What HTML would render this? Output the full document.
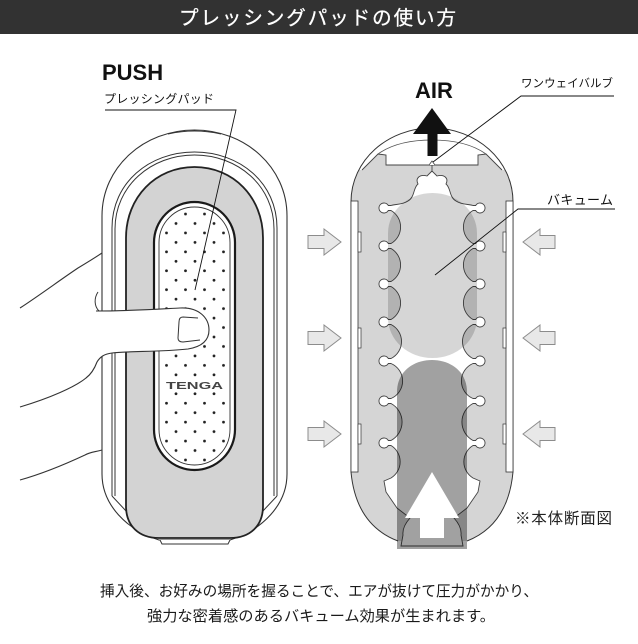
<!DOCTYPE html>
<html>
<head>
<meta charset="utf-8">
<style>
html,body{margin:0;padding:0;background:#fff;}
body{width:638px;height:644px;overflow:hidden;}
svg{display:block;}
text{font-family:"Liberation Sans","Noto Sans CJK JP",sans-serif;}
</style>
</head>
<body>
<svg width="638" height="644" viewBox="0 0 638 644" xmlns="http://www.w3.org/2000/svg">
<defs>
  <clipPath id="capc">
    <path d="M351,202 C351,160 388,128 432,128 C476,128 513,160 513,202 L513,472 Q508,525 467,541 L398,541 Q356,525 351,472 Z"/>
  </clipPath>
  <pattern id="dots" patternUnits="userSpaceOnUse" x="157" y="209.27" width="19" height="18.92">
    <circle cx="9.5" cy="4.73" r="1.4" fill="#222"/>
    <circle cx="0" cy="14.19" r="1.4" fill="#222"/>
    <circle cx="19" cy="14.19" r="1.4" fill="#222"/>
  </pattern>
</defs>

<!-- Header -->
<rect x="0" y="0" width="638" height="34" fill="#323232"/>
<text x="179" y="24.5" font-size="19.5" fill="#ffffff" stroke="#ffffff" stroke-width="0.3" textLength="277" lengthAdjust="spacing">プレッシングパッドの使い方</text>

<!-- Labels left -->
<text x="102" y="80" font-size="22" font-weight="bold" fill="#111">PUSH</text>
<text x="104" y="103" font-size="12" fill="#111" textLength="110" lengthAdjust="spacing">プレッシングパッド</text>

<!-- ===== Left device ===== -->
<path d="M102,216 C102,167 144,130 194.5,130 C245,130 287,167 287,216 L287,474 C287,505 262,530 230,540 L159,540 C127,530 102,505 102,474 Z" fill="#fff" stroke="#333" stroke-width="1.1"/>
<path d="M168,134 Q194.5,128 221,134" fill="none" stroke="#333" stroke-width="1"/>
<path d="M160,540 L162,544 L228,544 L230,540" fill="#fff" stroke="#333" stroke-width="1"/>
<!-- ring -->
<path d="M112,496 L112,228 C112,183 149,152 194.5,152 C240,152 277,183 277,228 L277,496" fill="none" stroke="#333" stroke-width="1"/>
<path d="M115,496 L115,229 C115,186 151,155 194.5,155 C238,155 274,186 274,229 L274,496" fill="none" stroke="#333" stroke-width="1"/>
<path d="M112,496 L127,512 M277,496 L262,512" fill="none" stroke="#333" stroke-width="1"/>
<!-- gray body -->
<path d="M126,238 C126,197 156,167 194.5,167 C233,167 263,197 263,238 L263,506 C263,526 250,538 230,538 L159,538 C139,538 126,526 126,506 Z" fill="#d3d3d3" stroke="#222" stroke-width="1.8"/>
<!-- pad -->
<rect x="154" y="202" width="81" height="268" rx="40.5" ry="40.5" fill="#fff" stroke="#1a1a1a" stroke-width="2.2"/>
<rect x="159" y="207" width="71" height="258" rx="35.5" ry="35.5" fill="url(#dots)" stroke="#333" stroke-width="0.9"/>
<rect x="162" y="379.5" width="66" height="10" fill="#fff"/>
<text x="166" y="389" font-size="10" font-weight="bold" fill="#444" textLength="57" lengthAdjust="spacingAndGlyphs">TENGA</text>

<!-- hand -->
<path d="M96,311 C130,311 160,309 180,308 C199,307 209,318 209,330 C209,342 200,347 188,349 C160,352 130,351 112,353 C104,354 100,357 97,362 L60,362 L60,311 Z" fill="#fff"/>
<path d="M20,308 C40,295 60,280 78,268 C88,262 96,257 102,253" fill="none" stroke="#333" stroke-width="1.1"/>
<path d="M98,292 C94,298 94,306 99,311" fill="none" stroke="#333" stroke-width="1"/>
<path d="M96,311 C130,311 160,309 180,308 C199,307 209,318 209,330 C209,342 200,347 188,349 C160,352 130,351 112,353 C104,354 100,357 97,362 C94,370 90,375 86,378 C75,387 50,398 20,407" fill="none" stroke="#333" stroke-width="1.1"/>
<path d="M198,318 L183,317 C180,317 179,319 179,322 L178,338 C178,341 180,342 183,342 L200,340" fill="none" stroke="#333" stroke-width="1"/>
<path d="M102,450 C95,452 90,452 85,455 C70,462 45,473 20,480" fill="none" stroke="#333" stroke-width="1.1"/>

<!-- leader left -->
<path d="M105,110 L236,110 L195,290" fill="none" stroke="#111" stroke-width="0.9"/>

<!-- ===== Right cross-section ===== -->
<path d="M351,202 C351,160 388,128 432,128 C476,128 513,160 513,202 L513,472 Q508,525 467,541 L398,541 Q356,525 351,472 Z" fill="#d5d5d5"/>
<polygon points="340,170 362,170 378,154 386,155 386,165 478,165 478,155 486,154 502,170 524,170 524,115 340,115" fill="#fff" clip-path="url(#capc)"/>
<polyline points="362,170 378,154 386,155 386,165 478,165 478,155 486,154 502,170" fill="none" stroke="#444" stroke-width="0.9"/>
<path d="M378,154 C392,144 410,140 432,140 C454,140 472,144 486,154" fill="none" stroke="#555" stroke-width="0.8"/>
<path d="M432,165 L432,172" stroke="#444" stroke-width="0.9"/>
<path d="M429,165 L432,161 L435,165" fill="#fff" stroke="#444" stroke-width="0.8"/>

<!-- canal -->
<path d="M432,171 L427,176 C420,174 415,178 418,184 C413,188 415,197 408,201 C402,205 395,204 391,205.5
L388.3,205.5 A5,5 0 1 0 388.3,210.5 L391,210.5 A19,19 0 0 1 391,243.5
L388.3,243.5 A5,5 0 1 0 388.3,248.5 L391,248.5 A19,19 0 0 1 391,281.5
L388.3,281.5 A5,5 0 1 0 388.3,286.5 L391,286.5 A19,19 0 0 1 391,319.5
L388.3,319.5 A5,5 0 1 0 388.3,324.5 L391,324.5 A19,19 0 0 1 391,358.5
L388.3,358.5 A5,5 0 1 0 388.3,363.5 L391,363.5 A19,19 0 0 1 391,398.5
L388.3,398.5 A5,5 0 1 0 388.3,403.5 L391,403.5 A21,21 0 0 1 391,440.5
L388.3,440.5 A5,5 0 1 0 388.3,445.5 L391,445.5 A19,19 0 0 1 391,478
L384,481 L386,492 L397,508 L410,518 Q402,527 403,535 L401,546 L463,546 L461,535 Q462,527 454,518 L467,508 L478,492 L480,481 L473,478
A19,19 0 0 1 473,445.5 L475.7,445.5 A5,5 0 1 0 475.7,440.5 L473,440.5
A21,21 0 0 1 473,403.5 L475.7,403.5 A5,5 0 1 0 475.7,398.5 L473,398.5
A19,19 0 0 1 473,363.5 L475.7,363.5 A5,5 0 1 0 475.7,358.5 L473,358.5
A19,19 0 0 1 473,324.5 L475.7,324.5 A5,5 0 1 0 475.7,319.5 L473,319.5
A19,19 0 0 1 473,286.5 L475.7,286.5 A5,5 0 1 0 475.7,281.5 L473,281.5
A19,19 0 0 1 473,248.5 L475.7,248.5 A5,5 0 1 0 475.7,243.5 L473,243.5
A19,19 0 0 1 473,210.5 L475.7,210.5 A5,5 0 1 0 475.7,205.5 L473,205.5
C469,204 462,205 456,201 C449,197 451,188 446,184 C449,178 444,174 437,176 L432,171 Z" fill="#fff" stroke="#444" stroke-width="0.9"/>

<!-- capsule outline -->
<path d="M398,541 Q356,525 351,472 L351,202 C351,160 388,128 432,128 C476,128 513,160 513,202 L513,472 Q508,525 467,541" fill="none" stroke="#333" stroke-width="1"/>

<!-- side strips -->
<rect x="351" y="201" width="7" height="271" fill="#fff" stroke="#333" stroke-width="0.8"/>
<rect x="358" y="232" width="3" height="20" fill="#fff" stroke="#333" stroke-width="0.7"/>
<rect x="358" y="328" width="3" height="20" fill="#fff" stroke="#333" stroke-width="0.7"/>
<rect x="358" y="424" width="3" height="20" fill="#fff" stroke="#333" stroke-width="0.7"/>
<rect x="506" y="201" width="7" height="271" fill="#fff" stroke="#333" stroke-width="0.8"/>
<rect x="503" y="232" width="3" height="20" fill="#fff" stroke="#333" stroke-width="0.7"/>
<rect x="503" y="328" width="3" height="20" fill="#fff" stroke="#333" stroke-width="0.7"/>
<rect x="503" y="424" width="3" height="20" fill="#fff" stroke="#333" stroke-width="0.7"/>

<!-- vacuum blob -->
<rect x="388" y="193" width="89" height="165" rx="44.5" ry="40" fill="#000" fill-opacity="0.16"/>
<!-- inserted dark column -->
<path d="M397,549 L397,392 C397,372 413,360 432,360 C451,360 467,372 467,392 L467,549 Z" fill="#000" fill-opacity="0.37"/>
<polygon points="432,472 459,518 444,518 444,538 420,538 420,518 405,518" fill="#fff"/>

<!-- pressure arrows -->
<g fill="#e8e8e8" stroke="#8c8c8c" stroke-width="1">
<polygon points="308,235.5 324,235.5 324,229 341,242 324,255 324,248.5 308,248.5"/>
<polygon points="308,331.5 324,331.5 324,325 341,338 324,351 324,344.5 308,344.5"/>
<polygon points="308,427.5 324,427.5 324,421 341,434 324,447 324,440.5 308,440.5"/>
<polygon points="523,242 540,229 540,235.5 555,235.5 555,248.5 540,248.5 540,255"/>
<polygon points="523,338 540,325 540,331.5 555,331.5 555,344.5 540,344.5 540,351"/>
<polygon points="523,434 540,421 540,427.5 555,427.5 555,440.5 540,440.5 540,447"/>
</g>

<!-- AIR arrow -->
<polygon points="432,108 451,134 437.5,134 437.5,156 427.5,156 427.5,134 413,134" fill="#111"/>
<text x="415" y="98" font-size="22" font-weight="bold" fill="#111">AIR</text>

<!-- right labels -->
<text x="521" y="87" font-size="11.5" fill="#111" textLength="92" lengthAdjust="spacing">ワンウェイバルブ</text>
<path d="M614,96 L521,96 L433,162" fill="none" stroke="#111" stroke-width="0.9"/>
<text x="547" y="204.5" font-size="13" fill="#111" textLength="66" lengthAdjust="spacing">バキューム</text>
<path d="M615,209 L518,209 L435,275" fill="none" stroke="#111" stroke-width="0.9"/>
<text x="515" y="523.5" font-size="15.5" fill="#222" textLength="97" lengthAdjust="spacing">※本体断面図</text>

<!-- bottom text -->
<text x="100" y="596" font-size="15" fill="#1a1a1a" textLength="438" lengthAdjust="spacingAndGlyphs">挿入後、お好みの場所を握ることで、エアが抜けて圧力がかかり、</text>
<text x="147" y="621" font-size="15" fill="#1a1a1a" textLength="348" lengthAdjust="spacingAndGlyphs">強力な密着感のあるバキューム効果が生まれます。</text>
</svg>
</body>
</html>
